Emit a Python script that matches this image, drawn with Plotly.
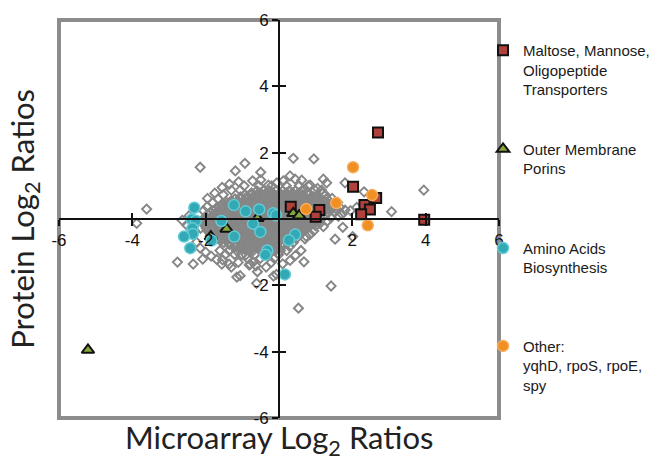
import plotly.graph_objects as go

# ---------------- data ----------------
# dense core of all genes (gray diamonds), rows: y -> list of x
core_rows = {
    0.85: [-0.6, -0.42, -0.25, -0.08, 0.1, 0.28, 0.45, 0.62],
    0.79: [-0.75, -0.55, -0.35, -0.17, 0.02, 0.2, 0.37, 0.55, 0.75],
    0.73: [-0.92, -0.76, -0.6, -0.45, -0.3, -0.14, 0.02, 0.17, 0.33, 0.49, 0.65, 0.82],
    0.67: [-1.05, -0.88, -0.72, -0.57, -0.41, -0.25, -0.1, 0.06, 0.22, 0.38, 0.54, 0.7, 0.88, 1.02],
    0.61: [-1.2, -1.04, -0.87, -0.72, -0.56, -0.4, -0.25, -0.1, 0.05, 0.21, 0.36, 0.52, 0.68, 0.84, 1.0, 1.12],
    0.55: [-1.3, -1.13, -0.97, -0.81, -0.65, -0.49, -0.33, -0.18, -0.03, 0.13, 0.29, 0.44, 0.6, 0.76, 0.92, 1.08, 1.22],
    0.49: [-1.42, -1.26, -1.1, -0.94, -0.78, -0.62, -0.47, -0.31, -0.16, 0.0, 0.15, 0.31, 0.47, 0.63, 0.79, 0.95, 1.1, 1.28],
    0.43: [-1.52, -1.35, -1.19, -1.03, -0.87, -0.71, -0.55, -0.39, -0.24, -0.08, 0.07, 0.23, 0.39, 0.55, 0.71, 0.87, 1.03, 1.19, 1.33],
    0.37: [-1.62, -1.46, -1.3, -1.14, -0.98, -0.82, -0.66, -0.5, -0.35, -0.19, -0.03, 0.12, 0.28, 0.44, 0.6, 0.76, 0.92, 1.08, 1.24, 1.37],
    0.31: [-1.72, -1.55, -1.39, -1.23, -1.07, -0.91, -0.75, -0.59, -0.43, -0.27, -0.11, 0.04, 0.2, 0.36, 0.52, 0.68, 0.84, 1.0, 1.16, 1.32],
    0.25: [-1.8, -1.64, -1.48, -1.32, -1.16, -1.0, -0.84, -0.68, -0.52, -0.36, -0.2, -0.04, 0.12, 0.28, 0.44, 0.6, 0.76, 0.92, 1.08, 1.24, 1.4],
    0.19: [-1.88, -1.72, -1.56, -1.4, -1.24, -1.08, -0.92, -0.76, -0.6, -0.44, -0.28, -0.12, 0.04, 0.2, 0.36, 0.52, 0.68, 0.84, 1.0, 1.16, 1.33],
    0.13: [-1.95, -1.79, -1.63, -1.47, -1.31, -1.15, -0.99, -0.83, -0.67, -0.51, -0.35, -0.19, -0.03, 0.13, 0.29, 0.45, 0.61, 0.77, 0.93, 1.09, 1.28],
    0.07: [-2.0, -1.84, -1.68, -1.52, -1.36, -1.2, -1.04, -0.88, -0.72, -0.56, -0.4, -0.24, -0.08, 0.08, 0.24, 0.4, 0.56, 0.72, 0.88, 1.04, 1.22],
    0.01: [-2.05, -1.89, -1.73, -1.57, -1.41, -1.25, -1.09, -0.93, -0.77, -0.61, -0.45, -0.29, -0.13, 0.03, 0.19, 0.35, 0.51, 0.67, 0.83, 0.99, 1.15],
    -0.05: [-2.06, -1.9, -1.74, -1.58, -1.42, -1.26, -1.1, -0.94, -0.78, -0.62, -0.46, -0.3, -0.14, 0.02, 0.18, 0.34, 0.5, 0.66, 0.82, 0.98, 1.1],
    -0.11: [-2.05, -1.89, -1.73, -1.57, -1.41, -1.25, -1.09, -0.93, -0.77, -0.61, -0.45, -0.29, -0.13, 0.03, 0.19, 0.35, 0.51, 0.67, 0.83, 1.0],
    -0.17: [-2.03, -1.87, -1.71, -1.55, -1.39, -1.23, -1.07, -0.91, -0.75, -0.59, -0.43, -0.27, -0.11, 0.05, 0.21, 0.37, 0.53, 0.69, 0.88],
    -0.23: [-2.0, -1.84, -1.68, -1.52, -1.36, -1.2, -1.04, -0.88, -0.72, -0.56, -0.4, -0.24, -0.08, 0.08, 0.24, 0.4, 0.56, 0.72, 0.8],
    -0.29: [-1.98, -1.82, -1.66, -1.5, -1.34, -1.18, -1.02, -0.86, -0.7, -0.54, -0.38, -0.22, -0.06, 0.1, 0.26, 0.42, 0.58, 0.7],
    -0.35: [-1.95, -1.79, -1.63, -1.47, -1.31, -1.15, -0.99, -0.83, -0.67, -0.51, -0.35, -0.19, -0.03, 0.13, 0.29, 0.45, 0.6],
    -0.41: [-1.9, -1.74, -1.58, -1.42, -1.26, -1.1, -0.94, -0.78, -0.62, -0.46, -0.3, -0.14, 0.02, 0.18, 0.34, 0.5],
    -0.47: [-1.85, -1.69, -1.53, -1.37, -1.21, -1.05, -0.89, -0.73, -0.57, -0.41, -0.25, -0.09, 0.07, 0.23, 0.45],
    -0.53: [-1.78, -1.62, -1.46, -1.3, -1.14, -0.98, -0.82, -0.66, -0.5, -0.34, -0.18, -0.02, 0.14, 0.3, 0.4],
    -0.59: [-1.7, -1.54, -1.38, -1.22, -1.06, -0.9, -0.74, -0.58, -0.42, -0.26, -0.1, 0.06, 0.22, 0.35],
    -0.65: [-1.6, -1.44, -1.28, -1.12, -0.96, -0.8, -0.64, -0.48, -0.32, -0.16, 0.0, 0.16, 0.3],
    -0.71: [-1.5, -1.34, -1.18, -1.02, -0.86, -0.7, -0.54, -0.38, -0.22, -0.06, 0.1, 0.25],
    -0.77: [-1.35, -1.19, -1.03, -0.87, -0.71, -0.55, -0.39, -0.23, -0.07, 0.09],
    -0.83: [-1.2, -1.04, -0.88, -0.72, -0.56, -0.4, -0.24, -0.08, 0.08],
    -0.89: [-1.05, -0.88, -0.72, -0.56, -0.4, -0.24, -0.08],
    -0.95: [-0.9, -0.7, -0.5, -0.3, -0.1],
}

# scattered genes (gray diamonds) around the core
other_x = [1.35, 1.52, 1.62, 1.42, 1.32, 1.55, 1.72, 1.12, 1.0, 0.95, 0.85, 0.74,
           -2.5, -2.3, -2.45, -2.25, -2.15, -2.0, -1.85, -1.7, -1.95, -1.75, -1.55,
           -1.35, -1.1, -0.5, 0.3, 0.85, 1.05, 1.45, 1.6, 0.6, 0.45, 0.3, 0.1, -0.35, -1.3,
           -3.61, -3.88, -2.15, -2.77, -2.34, -2.08, -1.15, -2.64, -0.93, -1.19, -0.50,
           0.39, 0.95, -0.72, -0.29, -0.06, 0.12, 0.44, 0.62, 1.21, 1.30, 1.80, 1.19,
           0.94, 1.25, 1.48, 1.66, 1.80, 1.95, 2.12, 3.07, 1.21, 1.74, 0.71, 0.68,
           -0.07, -0.63, -0.59, -0.81, -1.36, -1.56, -2.14, 0.53, 1.42, -0.61, -0.90,
           -0.15, 2.32, 3.95, 2.01, 1.53, -1.93, -1.58, -1.54, -1.06, -0.79,
           -0.95, -0.55, -0.2, 0.2, 0.55, 0.8, -1.3, -1.06, 0.98, 1.16, -1.52, 1.26,
           -1.66, 1.31, -1.81, -1.96, -2.06, -1.61, -1.36, -1.16, 0.04, 0.21, -1.46,
           -1.21, -1.01, -0.66, -0.33, -0.01, -0.86, -0.51, -0.13, -1.11, -0.71, -0.21,
           0.47, 0.39, 0.29, 0.61, 0.77]
other_y = [0.45, 0.2, 0.08, 0.04, -0.06, 0.31, 0.14, -0.13, -0.21, -0.36, -0.46, -0.52,
           -0.2, -0.36, 0.1, -0.7, -0.88, -1.0, -1.12, -1.22, 0.62, 0.78, 0.95,
           1.05, 1.12, 1.18, 1.3, 1.02, 0.92, 0.62, 0.5, -0.95, -1.1, -1.25, -1.35, -1.45, -1.45,
           0.30, -0.13, 1.56, -1.30, -1.36, -1.21, -1.75, -0.04, 1.68, 1.45, 1.41,
           1.83, 1.81, 1.15, 1.02, 1.09, 1.15, 1.20, 1.17, 1.20, 1.09, 1.09, 0.77,
           0.67, 0.52, 0.37, 0.35, 0.27, 0.25, 0.35, 0.22, -0.23, -0.25, -0.60, -1.29,
           -1.67, -1.41, -1.59, -1.39, -1.36, -1.36, -0.28, -2.69, -2.02, -1.94, -1.08,
           -1.72, 0.82, 0.87, -0.53, -0.61, 0.15, 0.22, -1.23, -1.71, -1.36,
           1.0, 1.0, 1.0, 1.0, 1.0, 1.0, 0.87, 0.87, 0.87, 0.87, 0.73, 0.73,
           0.61, 0.61, 0.49, 0.37, 0.25, -0.95, -0.95, -0.95, -0.95, -0.95, -1.07,
           -1.07, -1.07, -1.07, -1.07, -1.07, -1.19, -1.19, -1.19, -1.31, -1.31, -1.31,
           -0.59, -0.71, -0.83, -0.35, -0.23]

# Maltose, Mannose, Oligopeptide transporters
malt_x = [2.70, 2.02, 2.65, 2.33, 2.48, 2.24, 3.96, 0.32, 1.10, 1.00]
malt_y = [2.61, 0.97, 0.63, 0.42, 0.29, 0.14, -0.02, 0.37, 0.27, 0.07]

# Outer membrane porins
porin_x = [0.39, 0.55, -0.59, -1.43, -1.86, -5.21]
porin_y = [0.17, 0.10, 0.02, -0.30, -0.53, -3.95]

# Amino acid biosynthesis
amino_x = [-2.31, -2.38, -2.27, -2.36, -2.35, -2.59, -2.42, -1.84, -1.57, -1.23, -0.91,
           -1.22, -0.54, -0.71, -0.51, -0.16, -0.08, 0.44, 0.27, -0.32, -0.37, 0.16]
amino_y = [0.34, -0.01, -0.05, -0.28, -0.45, -0.53, -0.88, -0.65, -0.06, 0.42, 0.23,
           -0.53, 0.29, -0.14, -0.39, 0.17, 0.11, -0.47, -0.64, -0.95, -1.08, -1.67]

# Other: yqhD, rpoS, rpoE, spy
oth_x = [2.02, 2.54, 2.42, 1.56, 0.74]
oth_y = [1.56, 0.72, -0.19, 0.48, 0.30]

tick_vals = [-6, -4, -2, 2, 4, 6]
tick_text = ["-6", "-4", "-2", "2", "4", "6"]

# ---------------- build ----------------
gray_x, gray_y = [], []
for yv, xs in core_rows.items():
    for xv in xs:
        gray_x.append(xv)
        gray_y.append(yv)
gray_x += other_x
gray_y += other_y

SANS = "Liberation Sans"
LEG_FONT = dict(family=SANS, size=15, color="#1a1a1a")

fig = go.Figure()
fig.add_trace(go.Scatter(
    x=gray_x, y=gray_y, mode="markers", showlegend=False, hoverinfo="skip",
    marker=dict(symbol="diamond-open", size=7, color="#868686", line=dict(width=1.9, color="#868686"))))
fig.add_trace(go.Scatter(
    x=malt_x, y=malt_y, mode="markers", name="Maltose, Mannose,<br>Oligopeptide<br>Transporters",
    legend="legend",
    marker=dict(symbol="square", size=10, color="#b0403b", line=dict(width=2, color="#111111"))))
fig.add_trace(go.Scatter(
    x=porin_x, y=porin_y, mode="markers", name="Outer Membrane<br>Porins",
    legend="legend2",
    marker=dict(symbol="triangle-up", size=11, color="#86a53a", line=dict(width=2, color="#111111"))))
fig.add_trace(go.Scatter(
    x=amino_x, y=amino_y, mode="markers", name="Amino Acids<br>Biosynthesis",
    legend="legend3",
    marker=dict(symbol="circle", size=11, color="#33a9b6", line=dict(width=1.5, color="#62cbd6"))))
fig.add_trace(go.Scatter(
    x=oth_x, y=oth_y, mode="markers", name="Other:<br>yqhD, rpoS, rpoE,<br>spy",
    legend="legend4",
    marker=dict(symbol="circle", size=11, color="#f08f22", line=dict(width=1.5, color="#f6ad5c"))))
# helper trace for the inner half of the crossing ticks
fig.add_trace(go.Scatter(x=[], y=[], xaxis="x2", yaxis="y2", showlegend=False, hoverinfo="skip"))

axis_common = dict(range=[-6, 6], showgrid=False, zeroline=False, tickvals=tick_vals,
                   ticktext=tick_text, anchor="free", position=0.5)
TICK_FONT = dict(family=SANS, size=17, color="#111111")

def leg(ypos):
    return dict(x=0.9637, y=ypos, xanchor="left", yanchor="top", valign="top",
                bgcolor="rgba(0,0,0,0)", font=LEG_FONT, borderwidth=0)

fig.update_layout(
    width=655, height=460,
    font=dict(family=SANS, size=15, color="#1a1a1a"),
    margin=dict(l=59, r=156, t=20, b=42, autoexpand=False),
    paper_bgcolor="white", plot_bgcolor="white",
    xaxis=dict(**axis_common, showline=True, linecolor="#111111", linewidth=2,
               ticks="outside", ticklen=6, tickwidth=1.5, tickcolor="#111111",
               tickfont=TICK_FONT),
    yaxis=dict(**axis_common, showline=True, linecolor="#111111", linewidth=2,
               ticks="outside", ticklen=6, tickwidth=1.5, tickcolor="#111111",
               tickfont=TICK_FONT),
    xaxis2=dict(range=[-6, 6], overlaying="x", anchor="free", position=0.5, showgrid=False,
                zeroline=False, tickvals=tick_vals, showticklabels=False, ticks="inside",
                ticklen=6, tickwidth=1.5, tickcolor="#111111", showline=False),
    yaxis2=dict(range=[-6, 6], overlaying="y", anchor="free", position=0.5, showgrid=False,
                zeroline=False, tickvals=tick_vals, showticklabels=False, ticks="inside",
                ticklen=6, tickwidth=1.5, tickcolor="#111111", showline=False),
    legend=leg(0.965),
    legend2=leg(0.717),
    legend3=leg(0.468),
    legend4=leg(0.222),
    shapes=[dict(type="rect", xref="paper", yref="paper", x0=0, x1=1, y0=0, y1=1,
                 line=dict(color="#8c8c8c", width=4), layer="below")],
    annotations=[
        dict(text="Microarray Log<sub>2</sub> Ratios", xref="paper", yref="paper",
             x=0.5, y=-0.055, xanchor="center", yanchor="middle", showarrow=False,
             font=dict(family="Lato", size=31, color="#222222")),
        dict(text="Protein Log<sub>2</sub> Ratios", xref="paper", yref="paper",
             x=-0.08, y=0.5, xanchor="center", yanchor="middle", showarrow=False, textangle=-90,
             font=dict(family="Lato", size=31, color="#222222")),
    ],
)

fig.write_html("out.html")
